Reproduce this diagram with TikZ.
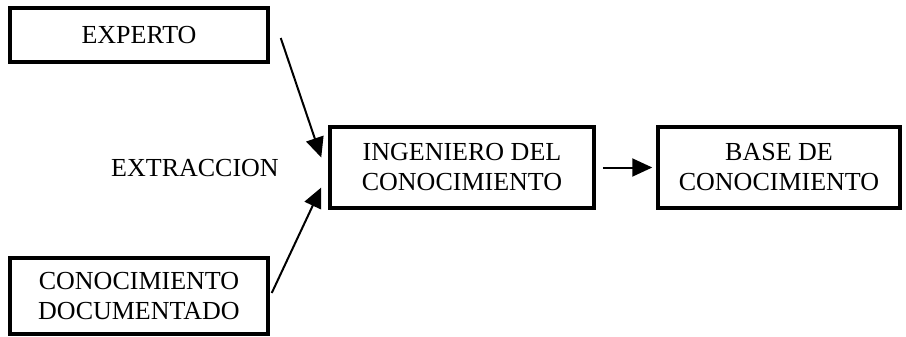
\documentclass[tikz,border=0pt]{standalone}
\usepackage{fontspec}
\setmainfont{Liberation Serif}
\usetikzlibrary{arrows.meta}
\tikzset{
	caja/.style={draw,line width=3.5pt,align=center,inner sep=0pt,font=\fontsize{26}{30}\selectfont},
	flecha/.style={line width=2pt,-{Triangle[length=20pt,width=18pt]}}
}
\begin{document}
\begin{tikzpicture}[x=1pt,y=-1pt]
	    \useasboundingbox (0,0) rectangle (906,337);
	    \node[caja,minimum width=258pt,minimum height=54pt](experto) at (139,35) {EXPERTO};
	    \node[caja,minimum width=258pt,minimum height=76pt](docu) at (139,296) {CONOCIMIENTO\\DOCUMENTADO};
	    \node[caja,minimum width=264pt,minimum height=81pt](ing) at (462,167.5) {INGENIERO DEL\\CONOCIMIENTO};
	    \node[caja,minimum width=242pt,minimum height=81pt](base) at (779,167.5) {BASE DE\\CONOCIMIENTO};
	    \node[font=\fontsize{26}{30}\selectfont](extr) at (195,168) {EXTRACCION};
	    \draw[flecha]([xshift=11pt,yshift=-3pt]experto.east)--([xshift=-7pt,yshift=10pt]ing.west);
	    \draw[flecha]([xshift=2pt,yshift=3pt]docu.east)--([xshift=-7pt,yshift=-20pt]ing.west);
	    \draw[flecha]([xshift=7pt]ing.east)--([xshift=-4pt]base.west);
	\end{tikzpicture}
\end{document}
